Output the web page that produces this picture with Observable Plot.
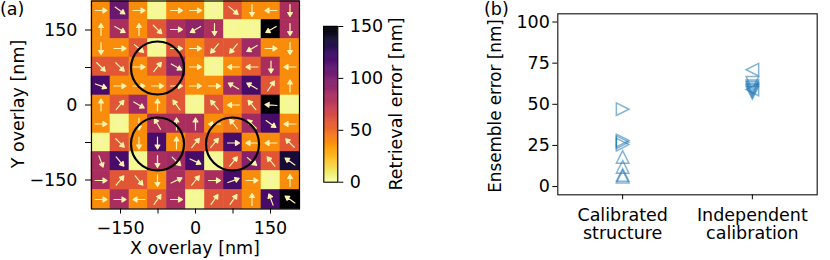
<!DOCTYPE html>
<html>
<head>
<meta charset="utf-8">
<script src="https://cdn.jsdelivr.net/npm/d3@7"></script>
<script src="https://cdn.jsdelivr.net/npm/@observablehq/plot@0.6"></script>
<style>
  html, body { margin: 0; padding: 0; background: white; }
  #fig { position: relative; width: 830px; height: 260px; overflow: hidden; font-family: "DejaVu Sans", sans-serif; font-size: 17.5px; color: black; }
  #fig svg { position: absolute; top: 0; overflow: visible; }
  .lbl { position: absolute; white-space: nowrap; line-height: 1; }
  .rot { transform: translate(-50%, -50%) rotate(-90deg); }
</style>
</head>
<body>
<div id="fig"></div>
<script>
// ---------- Panel (a): retrieval error map ----------
const gridPos = [-189, -151, -113, -76, -38, 0, 38, 76, 113, 151, 189]; // nm, cell centres
const cellHalf = 19; // nm
// rows listed top (y = +189) to bottom (y = -189)
const retrievalError = [
  [38, 105, 38, 3, 38, 38, 3, 58, 38, 38, 82],
  [38, 82, 38, 58, 82, 92, 80, 3, 3, 150, 82],
  [38, 38, 58, 3, 58, 40, 58, 58, 85, 38, 38],
  [58, 58, 38, 58, 90, 38, 3, 38, 55, 82, 38],
  [118, 38, 38, 38, 58, 38, 38, 85, 118, 58, 38],
  [38, 58, 85, 38, 58, 3, 58, 38, 58, 150, 3],
  [38, 3, 38, 82, 82, 82, 38, 45, 85, 118, 38],
  [3, 58, 38, 118, 38, 58, 58, 118, 38, 38, 58],
  [82, 118, 3, 82, 85, 118, 3, 58, 95, 58, 135],
  [82, 58, 58, 38, 82, 58, 82, 118, 38, 3, 38],
  [38, 82, 38, 58, 82, 3, 58, 58, 38, 118, 150]
];
// arrow direction, degrees clockwise from up
const arrowAngle = [
  [90, 125, 90, 0, 90, 90, 0, 130, 180, 270, 180],
  [0, 120, 0, 135, 90, 240, 180, 0, 0, 240, 180],
  [180, 90, 130, 0, 90, 90, 220, 220, 240, 90, 180],
  [135, 135, 90, 40, 120, 90, 0, 270, 270, 180, 270],
  [110, 90, 90, 90, 90, 90, 90, 300, 300, 35, 0],
  [0, 40, 120, 0, 325, 0, 320, 270, 320, 275, 0],
  [90, 0, 180, 330, 0, 0, 270, 320, 315, 125, 270],
  [0, 135, 180, 180, 0, 40, 40, 90, 270, 270, 315],
  [160, 140, 0, 180, 135, 115, 0, 40, 130, 320, 305],
  [90, 40, 140, 180, 65, 40, 90, 70, 90, 0, 0],
  [90, 90, 270, 35, 90, 0, 35, 35, 0, 340, 305]
];
const circleX = [-76, -76, 74];
const circleY = [74, -78, -78];
const circleRadius = 53; // nm
const axisTicksA = [-150, -75, 0, 75, 150];
const colorbarTicks = [0, 50, 100, 150];

// ---------- Panel (b): ensemble error ----------
const categories = ["Calibrated\nstructure", "Independent\ncalibration"];
const calibratedRight = [47, 28, 27, 25.5];
const calibratedUp = [18, 12, 7, 6];
const independentLeft = [71, 59];
const independentDown = [63, 61, 60, 59, 58, 57];
const axisTicksB = [0, 25, 50, 75, 100];

const fig = document.getElementById("fig");
const FONT = { fontFamily: "DejaVu Sans", fontSize: "17.5px", color: "black", background: "transparent", overflow: "visible" };
const colorScale = { type: "linear", scheme: "inferno", reverse: true, domain: [0, 150] };
const fmt = d => (d < 0 ? "\u2212" + (-d) : String(d));

const cells = [];
retrievalError.forEach((row, i) => row.forEach((v, j) => {
  cells.push({ x: gridPos[j], y: gridPos[gridPos.length - 1 - i], v, a: arrowAngle[i][j] });
}));
const circles = circleX.map((x, i) => ({ x, y: circleY[i] }));

const wA = 310, hA = 260, mL = 91, mR = 11, mT = 0.5, mB = 51.5;
const pxPerNm = (wA - mL - mR) / 416;

// quiver-like arrow: thin shaft with a small filled head
const quiverArrow = {
  draw(ctx, l) {
    const h = 4, w = 2.4;
    ctx.moveTo(0, 0);
    ctx.lineTo(0, -l + h);
    ctx.moveTo(-w, -l + h);
    ctx.lineTo(0, -l);
    ctx.lineTo(w, -l + h);
    ctx.closePath();
  }
};
const arrowColor = "#fbf3ad";

const plotA = Plot.plot({
  width: wA, height: hA, marginLeft: mL, marginRight: mR, marginTop: mT, marginBottom: mB,
  style: FONT,
  x: { domain: [-208, 208] },
  y: { domain: [-208, 208] },
  color: colorScale,
  marks: [
    Plot.rect(cells, { x1: d => d.x - cellHalf, x2: d => d.x + cellHalf, y1: d => d.y - cellHalf, y2: d => d.y + cellHalf, fill: "v", inset: -0.3 }),
    Plot.vector(cells, { x: "x", y: "y", rotate: "a", length: 12, anchor: "middle", shape: quiverArrow, stroke: arrowColor, fill: arrowColor, strokeWidth: 1.2 }),
    Plot.dot(circles, { x: "x", y: "y", r: circleRadius * pxPerNm, stroke: "black", strokeWidth: 2.2, fill: "none" }),
    Plot.frame({ stroke: "black", strokeWidth: 1.2 }),
    Plot.axisX({ ticks: axisTicksA, tickFormat: d => (Math.abs(d) === 75 ? "" : fmt(d)), tickSize: 5, tickPadding: 8, label: null }),
    Plot.axisY({ ticks: axisTicksA, tickFormat: d => (Math.abs(d) === 75 ? "" : fmt(d)), tickSize: 6, tickPadding: 8, label: null })
  ]
});
plotA.style.left = "0px";
fig.appendChild(plotA);

// colorbar
const cbStep = 0.5;
const cbSteps = d3.range(0, 150, cbStep);
const plotCB = Plot.plot({
  width: 100, height: 260, marginLeft: 23.3, marginRight: 62.7, marginTop: 26, marginBottom: 78.3,
  style: FONT,
  x: { domain: [0, 1], axis: null },
  y: { domain: [0, 150] },
  color: colorScale,
  marks: [
    Plot.rect(cbSteps, { x1: 0, x2: 1, y1: d => d, y2: d => d + cbStep, fill: d => d + cbStep / 2, inset: -0.2 }),
    Plot.frame({ stroke: "black", strokeWidth: 1.1 }),
    Plot.axisY({ anchor: "right", ticks: colorbarTicks, tickSize: 5, tickPadding: 7, label: null })
  ]
});
plotCB.style.left = "300px";
fig.appendChild(plotCB);

// panel (b)
function tri(dir) {
  return {
    draw(ctx, size) {
      const r = Math.sqrt(size / Math.PI);
      const pts = {
        up: [[0, -r], [-r, r], [r, r]],
        down: [[0, r], [-r, -r], [r, -r]],
        left: [[-r, 0], [r, -r], [r, r]],
        right: [[r, 0], [-r, -r], [-r, r]]
      }[dir];
      ctx.moveTo(pts[0][0], pts[0][1]);
      ctx.lineTo(pts[1][0], pts[1][1]);
      ctx.lineTo(pts[2][0], pts[2][1]);
      ctx.closePath();
    }
  };
}
const markerStyle = { r: 6.3, stroke: "#1f77b4", strokeOpacity: 0.55, strokeWidth: 1.5, fill: "none" };
const plotB = Plot.plot({
  width: 360, height: 260, marginLeft: 87.3, marginRight: 13.3, marginTop: 13.3, marginBottom: 65.7,
  style: FONT,
  x: { domain: [-0.5, 1.5] },
  y: { domain: [-5, 105] },
  marks: [
    Plot.frame({ stroke: "#222", strokeWidth: 1.2 }),
    Plot.dot(calibratedRight, { x: () => 0, y: d => d, symbol: tri("right"), ...markerStyle }),
    Plot.dot(calibratedUp, { x: () => 0, y: d => d, symbol: tri("up"), ...markerStyle }),
    Plot.dot(independentLeft, { x: () => 1, y: d => d, symbol: tri("left"), ...markerStyle }),
    Plot.dot(independentDown, { x: () => 1, y: d => d, symbol: tri("down"), ...markerStyle }),
    Plot.axisX({ ticks: [0, 1], tickFormat: i => categories[i], tickSize: 5, tickPadding: 8, lineHeight: 1.05, label: null }),
    Plot.axisY({ ticks: axisTicksB, tickSize: 5, tickPadding: 3, label: null })
  ]
});
plotB.style.left = "470px";
fig.appendChild(plotB);

// text labels
function addLabel(text, css, rot) {
  const d = document.createElement("div");
  d.className = "lbl" + (rot ? " rot" : "");
  d.textContent = text;
  Object.assign(d.style, css);
  fig.appendChild(d);
}
addLabel("(a)", { left: "0px", top: "1px" });
addLabel("(b)", { left: "484px", top: "1px" });
addLabel("X overlay [nm]", { left: "195px", top: "240px", transform: "translateX(-50%)" });
addLabel("Y overlay [nm]", { left: "19px", top: "104px" }, true);
addLabel("Retrieval error [nm]", { left: "397px", top: "104px" }, true);
addLabel("Ensemble error [nm]", { left: "495px", top: "106px", fontSize: "16.8px" }, true);
</script>
</body>
</html>
